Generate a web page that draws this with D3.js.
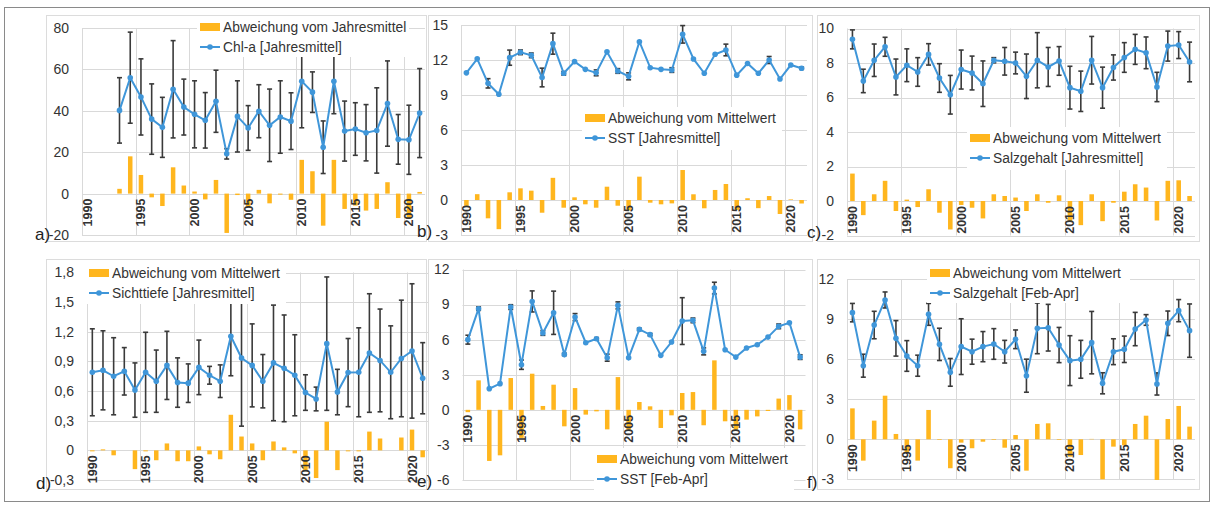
<!DOCTYPE html>
<html>
<head>
<meta charset="utf-8">
<script src="https://cdn.jsdelivr.net/npm/d3@7"></script>
<style>
body { margin: 0; background: #fff; }
svg { display: block; font-family: "Liberation Sans", Arial, sans-serif; }
</style>
</head>
<body>
<svg id="chart" width="1214" height="507"></svg>
<script>
var years = [1990,1991,1992,1993,1994,1995,1996,1997,1998,1999,2000,2001,2002,2003,2004,2005,
             2006,2007,2008,2009,2010,2011,2012,2013,2014,2015,2016,2017,2018,2019,2020,2021];

// a) Chl-a
var chlMean = [null,null,null,40.2,56,46.7,36,32,50.4,41.8,38.3,35.4,44.6,19.2,37.3,31.7,39.8,33,37,35,54.3,49,22.4,54.3,30.2,31.2,29.4,30.5,43.5,26.2,26,38.9];
var chlErr  = [null,null,null,15.8,22,18.4,17,14.5,23.5,13.5,16.2,13.4,15,2.5,17.2,10.8,12.8,17.5,17.5,13.7,22.5,9.8,12.7,15.7,14.5,12.7,13.6,20.6,20.6,12,16.7,21.5];
var chlDev  = [null,null,null,2.3,18,9,-1.8,-6,12.7,3.9,1,-2.8,6.6,-19,-0.7,-6.3,1.8,-4.7,-0.5,-3,16.3,10.8,-15.5,16.3,-7.4,-5.8,-8.2,-7.4,5.5,-11.8,-12,0.8];

// b) SST Jahresmittel
var sstMean = [10.9,12.1,10.0,9.06,12.2,12.66,12.4,10.5,13.4,10.86,11.86,11.2,10.9,12.7,11.06,10.6,13.57,11.34,11.2,11.14,14.2,12.09,10.86,12.49,12.86,10.7,11.7,10.86,12.0,10.37,11.57,11.29];
var sstErr  = [0,0,0.4,0,0.65,0.2,0.2,0.8,0.9,0.15,0,0,0.25,0,0.2,0.3,0,0,0,0.2,0.75,0,0,0,0.5,0,0,0,0.3,0,0,0.1];
var sstDev  = [-0.5,0.5,-1.57,-2.5,0.66,1.0,0.8,-1.09,1.9,-0.66,0.23,-0.37,-0.66,1.14,-0.49,-0.9,2.0,-0.23,-0.37,-0.29,2.57,0.49,-0.71,0.86,1.37,-0.85,0.15,-0.7,0.34,-1.2,0.05,-0.3];

// c) Salzgehalt Jahresmittel
var salMean = [9.37,6.96,8.16,8.94,7.19,7.87,7.48,8.5,7.13,6.16,7.62,7.42,6.8,8.16,8.1,8.0,7.23,8.16,7.77,8.12,6.57,6.36,8.16,6.57,7.74,8.32,8.79,8.59,6.61,8.98,9.04,8.06];
var salErr  = [0.55,0.68,0.94,0.55,1.04,0.95,0.83,0.62,0.83,1.12,1.13,0.98,1.32,0.15,0.8,0.63,1.29,1.6,1.13,0.83,1.24,1.17,1.38,1.19,0.73,0.86,0.87,0.92,0.85,0.87,0.78,1.15];
var salDev  = [1.59,-0.82,0.39,1.17,-0.58,0.08,-0.35,0.68,-0.68,-1.65,-0.23,-0.39,-1.01,0.39,0.29,0.2,-0.58,0.39,-0.1,0.33,-1.2,-1.4,0.39,-1.17,-0.1,0.54,0.97,0.78,-1.13,1.17,1.2,0.29];

// d) Sichttiefe
var sdMean = [0.79,0.81,0.75,0.80,0.61,0.79,0.70,0.86,0.686,0.68,0.84,0.76,0.70,1.155,0.935,0.86,0.70,0.885,0.83,0.76,0.585,0.52,1.08,0.59,0.787,0.79,0.985,0.91,0.79,0.93,1.006,0.73];
var sdErr  = [0.44,0.40,0.39,0.24,0.275,0.405,0.315,0.345,0.25,0.195,0.276,0.09,0.165,0.4,0.69,0.42,0.27,0.585,0.54,0.41,0.18,0.12,0.675,0.23,0.345,0.45,0.6,0.52,0.47,0.59,0.68,0.36];
var sdDev  = [-0.01,0.01,-0.05,0,-0.19,-0.01,-0.1,0.07,-0.11,-0.11,0.04,-0.04,-0.09,0.36,0.14,0.07,-0.1,0.09,0.03,-0.03,-0.21,-0.28,0.29,-0.2,-0.01,-0.01,0.19,0.12,0,0.13,0.21,-0.07];

// e) SST Feb-Apr
var feMean = [6.0,8.65,1.81,2.24,8.79,3.86,9.27,6.57,8.3,4.74,7.93,5.74,6.08,4.46,8.93,4.46,6.88,6.43,4.66,5.8,7.59,7.65,5.0,10.41,5.14,4.51,5.29,5.57,6.22,7.14,7.45,4.51];
var feErr  = [0.38,0.15,0,0,0.2,0.4,0.9,0.2,1.85,0.1,0.3,0,0.1,0.3,0.3,0,0.1,0.1,0,0,2.0,0.2,0.3,0.5,0,0,0,0,0,0.2,0,0.2];
var feDev  = [-0.2,2.52,-4.37,-3.89,2.72,-2.4,3.09,0.33,2.15,-1.41,1.86,-0.41,-0.13,-1.67,2.8,-1.7,0.67,0.3,-1.55,-0.47,1.44,1.52,-1.32,4.23,-0.98,-1.7,-0.84,-0.56,-0.1,0.96,1.26,-1.67];

// f) Salzgehalt Feb-Apr
var fsMean = [9.5,5.52,8.57,10.45,7.57,6.25,5.52,9.37,7.12,5.02,6.95,6.57,6.95,7.15,6.57,7.5,4.77,8.32,8.37,7.07,5.9,6.0,7.25,4.2,6.57,6.75,8.27,8.95,4.15,8.7,9.65,8.15];
var fsErr  = [0.69,0.86,1.03,0.6,1.33,1.15,0.79,0.82,1.21,1.04,2.09,0.94,1.13,1.15,0.85,0.7,1.24,1.9,1.75,1.32,1.87,1.42,2.34,0.79,0.97,0.99,1.25,0.4,0.83,0.92,0.83,2.0];
var fsDev  = [2.32,-1.6,1.4,3.27,0.4,-0.95,-1.6,2.2,-0.05,-2.17,-0.25,-0.67,-0.18,-0.05,-0.63,0.32,-2.35,1.15,1.2,-0.05,-1.3,-1.18,0.03,-3.0,-0.55,-0.45,1.15,1.77,-3.05,1.52,2.5,0.95];

var devName = "Abweichung vom Mittelwert";

var panels = [
  {tag: "a)", tagX: 35, tagY: 240, box: [46, 15, 380, 226], x0: 82, x1: 425, yt: 28, yb: 235,
   dom: [-20, 80], step: 20, comma: false, mean: chlMean, err: chlErr, dev: chlDev,
   names: ["Abweichung vom Jahresmittel", "Chl-a [Jahresmittel]"], leg: [200, 27, 197, 17, 212, 40]},
  {tag: "b)", tagX: 417, tagY: 237, box: [428, 15, 384, 226], x0: 461, x1: 807, yt: 25, yb: 235,
   dom: [-3, 15], step: 3, comma: false, mean: sstMean, err: sstErr, dev: sstDev,
   names: [devName, "SST [Jahresmittel]"], leg: [585, 118, 582, 107, 200, 43]},
  {tag: "c)", tagX: 807, tagY: 238, box: [817, 15, 382, 226], x0: 847, x1: 1195, yt: 28.5, yb: 235.5,
   dom: [-2, 10], step: 2, comma: false, mean: salMean, err: salErr, dev: salDev,
   names: [devName, "Salzgehalt [Jahresmittel]"], leg: [970, 138, 967, 127, 200, 43]},
  {tag: "d)", tagX: 36, tagY: 489, box: [46, 259, 380, 230], x0: 87, x1: 428, yt: 272.5, yb: 480,
   dom: [-0.3, 1.8], step: 0.3, comma: true, mean: sdMean, err: sdErr, dev: sdDev,
   names: [devName, "Sichttiefe [Jahresmittel]"], leg: [89, 273, 86, 262, 200, 42]},
  {tag: "e)", tagX: 417, tagY: 487, box: [428, 259, 384, 230], x0: 462.5, x1: 805.5, yt: 269.5, yb: 480,
   dom: [-6, 12], step: 3, comma: false, mean: feMean, err: feErr, dev: feDev,
   names: [devName, "SST [Feb-Apr]"], leg: [597, 459, 594, 448, 200, 42]},
  {tag: "f)", tagX: 807, tagY: 488, box: [817, 259, 382, 230], x0: 847, x1: 1195, yt: 279.3, yb: 479.3,
   dom: [-3, 12], step: 3, comma: false, mean: fsMean, err: fsErr, dev: fsDev,
   names: [devName, "Salzgehalt [Feb-Apr]"], leg: [930, 273, 927, 262, 203, 41]}
];

var blue = "#3f96d9",
    orange = "#ffb61e",
    grid = "#d9d9d9",
    errCol = "#3a3a3a",
    txt = "#333";

var svg = d3.select("#chart");

svg.append("rect").attr("x", 4.5).attr("y", 7.5).attr("width", 1205).attr("height", 494)
    .attr("fill", "none").attr("stroke", "#8a8a8a");

function fmt(p, d) {
    if (Math.abs(d) < 1e-9) return "0";
    if (p.comma) return d.toFixed(1).replace(".", ",");
    return String(Math.round(d));
}

function drawPanel(p) {
    var g = svg.append("g");
    var x = d3.scaleBand().domain(years).range([p.x0, p.x1]);
    var y = d3.scaleLinear().domain(p.dom).range([p.yb, p.yt]);
    var bw = x.bandwidth();
    var cx = function(d) { return x(d) + bw / 2; };

    g.append("rect").attr("x", p.box[0] + 0.5).attr("y", p.box[1] + 0.5)
        .attr("width", p.box[2]).attr("height", p.box[3])
        .attr("fill", "none").attr("stroke", "#dcdcdc");

    var n = Math.round((p.dom[1] - p.dom[0]) / p.step);
    var ticks = d3.range(n + 1).map(function(i) { return Math.round((p.dom[0] + i * p.step) * 10) / 10; });

    g.selectAll(".hg").data(ticks).enter().append("line")
        .attr("x1", p.x0).attr("x2", p.x1)
        .attr("y1", function(d) { return Math.round(y(d)) + 0.5; })
        .attr("y2", function(d) { return Math.round(y(d)) + 0.5; })
        .attr("stroke", grid);

    var five = years.filter(function(d) { return d % 5 === 0; });
    g.selectAll(".vg").data(five).enter().append("line")
        .attr("x1", function(d) { return Math.round(x(d)) + 0.5; })
        .attr("x2", function(d) { return Math.round(x(d)) + 0.5; })
        .attr("y1", p.yt).attr("y2", p.yb)
        .attr("stroke", grid);

    g.selectAll(".yl").data(ticks).enter().append("text")
        .attr("x", p.x0 - 13).attr("y", function(d) { return y(d); })
        .attr("dy", "0.35em").attr("text-anchor", "end")
        .attr("font-size", 14).attr("fill", txt)
        .text(function(d) { return fmt(p, d); });

    var rows = years.map(function(yr, i) {
        return {yr: yr, m: p.mean[i], e: p.err[i], d: p.dev[i]};
    });

    var barW = bw * 0.42;
    g.selectAll(".bar").data(rows.filter(function(r) { return r.d != null; })).enter().append("rect")
        .attr("x", function(r) { return cx(r.yr) - barW / 2; })
        .attr("width", barW)
        .attr("y", function(r) { return Math.min(y(r.d), y(0)); })
        .attr("height", function(r) { return Math.abs(y(r.d) - y(0)); })
        .attr("fill", orange);

    g.selectAll(".xl").data(five).enter().append("text")
        .attr("transform", function(d) { return "translate(" + cx(d) + "," + (y(0) + 5) + ") rotate(-90)"; })
        .attr("dy", "0.36em").attr("text-anchor", "end")
        .attr("font-size", 12.5).attr("font-weight", "bold").attr("fill", txt)
        .text(function(d) { return d; });

    var eb = rows.filter(function(r) { return r.m != null && r.e > 0; });
    var eg = g.selectAll(".eb").data(eb).enter().append("g")
        .attr("stroke", errCol).attr("stroke-width", 1.6);
    eg.append("line").attr("x1", function(r) { return cx(r.yr); }).attr("x2", function(r) { return cx(r.yr); })
        .attr("y1", function(r) { return y(r.m + r.e); }).attr("y2", function(r) { return y(r.m - r.e); });
    eg.append("line").attr("x1", function(r) { return cx(r.yr) - 2.5; }).attr("x2", function(r) { return cx(r.yr) + 2.5; })
        .attr("y1", function(r) { return y(r.m + r.e); }).attr("y2", function(r) { return y(r.m + r.e); });
    eg.append("line").attr("x1", function(r) { return cx(r.yr) - 2.5; }).attr("x2", function(r) { return cx(r.yr) + 2.5; })
        .attr("y1", function(r) { return y(r.m - r.e); }).attr("y2", function(r) { return y(r.m - r.e); });

    var line = d3.line()
        .defined(function(r) { return r.m != null; })
        .x(function(r) { return cx(r.yr); })
        .y(function(r) { return y(r.m); });
    g.append("path").datum(rows).attr("d", line)
        .attr("fill", "none").attr("stroke", blue).attr("stroke-width", 2);

    g.selectAll(".pt").data(rows.filter(function(r) { return r.m != null; })).enter().append("circle")
        .attr("cx", function(r) { return cx(r.yr); }).attr("cy", function(r) { return y(r.m); })
        .attr("r", 2.8).attr("fill", blue);

    // legend
    var L = p.leg;
    g.append("rect").attr("x", L[2]).attr("y", L[3]).attr("width", L[4]).attr("height", L[5]).attr("fill", "#fff");
    g.append("rect").attr("x", L[0]).attr("y", L[1] - 4).attr("width", 20).attr("height", 8).attr("fill", orange);
    g.append("line").attr("x1", L[0]).attr("x2", L[0] + 20).attr("y1", L[1] + 20).attr("y2", L[1] + 20)
        .attr("stroke", blue).attr("stroke-width", 2);
    g.append("circle").attr("cx", L[0] + 10).attr("cy", L[1] + 20).attr("r", 2.8).attr("fill", blue);
    g.selectAll(".lt").data(p.names).enter().append("text")
        .attr("x", L[0] + 23).attr("y", function(d, i) { return L[1] + i * 20; })
        .attr("dy", "0.35em").attr("font-size", 13.8).attr("fill", txt)
        .text(function(d) { return d; });

    g.append("text").attr("x", p.tagX).attr("y", p.tagY)
        .attr("font-size", 17).attr("fill", "#222").text(p.tag);
}

panels.forEach(drawPanel);
</script>
</body>
</html>
